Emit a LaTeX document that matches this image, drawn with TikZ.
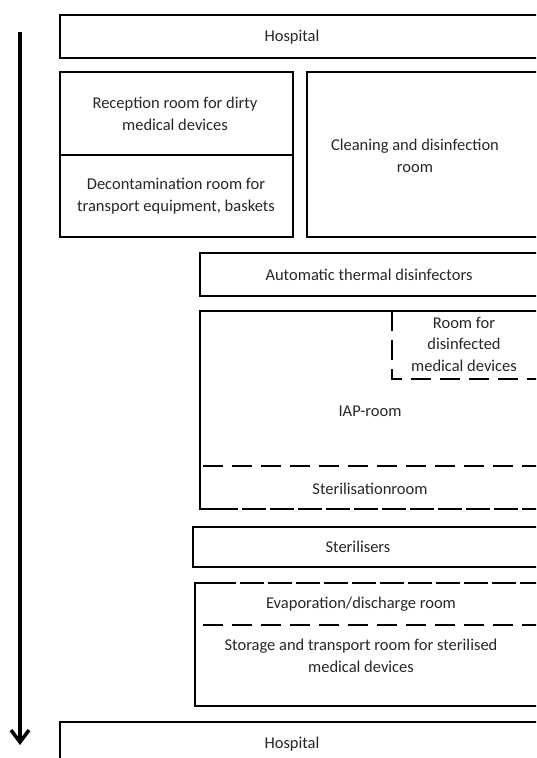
\documentclass[tikz,border=0pt]{standalone}
\usepackage{fontspec}
\setmainfont{Carlito}
\usetikzlibrary{arrows.meta}

\begin{document}
\begin{tikzpicture}[x=1pt,y=-1pt,
		wall/.style={line width=1.8pt},
		partition/.style={line width=1.8pt, dash pattern=on 20pt off 9pt},
		seam/.style={line width=1.8pt, dash pattern=on 24pt off 4pt},
		lbl/.style={align=center, inner sep=0pt, text=black!85, font=\fontsize{16.5}{21.5}\selectfont}]
	\useasboundingbox (0,0) rectangle (536,758);
	\clip (0,0) rectangle (536,758);

	% flow direction
	\coordinate (flowtop) at (20,32);
	\coordinate (flowend) at (20,745);
	\draw [line width=3.5pt, -{Straight Barb[length=12pt, width=18pt]}] (flowtop) -- (flowend);

	% dirty side
	\draw [wall] (60,15) rectangle (545,58);
	\draw [wall] (60,72) rectangle (293,155);
	\draw [wall] (60,155) rectangle (293,237);
	\draw [wall] (307,72) rectangle (545,237);
	\draw [wall] (200,253) rectangle (545,296);

	% IAP-room with its sub rooms
	\draw [wall] (545,311) -- (200,311) -- (200,509) -- (214,509);
	\draw [seam] (214,509) -- (545,509);
	\draw [partition] (392,311) -- (392,379) -- (545,379);
	\draw [partition] (203,466) -- (545,466);

	% clean side
	\draw [wall] (193,527) rectangle (545,567);
	\draw [wall] (212,583) -| (195,706) -- (545,706);
	\draw [seam] (212,583) -- (545,583);
	\draw [partition] (203,625) -- (545,625);
	\draw [wall] (60,722) rectangle (545,775);

	\node [lbl] (hosp1) at (292,37) {Hospital};
	\node [lbl] (recep) at (175,114) {Reception room for dirty\\medical devices};
	\node [lbl] (decon) at (176,196) {Decontamination room for\\transport equipment, baskets};
	\node [lbl] (clean) at (415,156) {Cleaning and disinfection\\room};
	\node [lbl] (autod) at (369,275) {Automatic thermal disinfectors};
	\node [lbl] (disroom) at (464,344) {Room for\\disinfected\\medical devices};
	\node [lbl] (iap) at (370,411) {IAP-room};
	\node [lbl] (sterroom) at (370,489) {Sterilisationroom};
	\node [lbl] (steril) at (358,547) {Sterilisers};
	\node [lbl] (evap) at (361,604) {Evaporation/discharge room};
	\node [lbl] (store) at (361,656) {Storage and transport room for sterilised\\medical devices};
	\node [lbl] (hosp2) at (292,744) {Hospital};
\end{tikzpicture}
\end{document}
